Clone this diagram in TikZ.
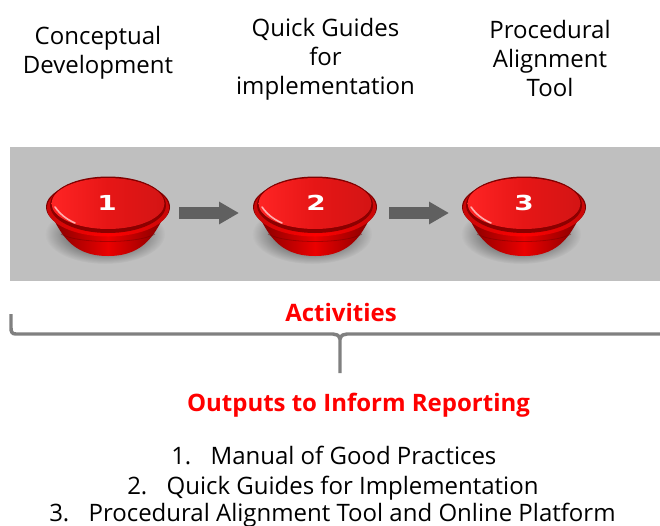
\documentclass[tikz,border=0pt]{standalone}
\usepackage{fontspec}
\setmainfont{Open Sans}
\newfontfamily\numfont{DejaVu Sans}
\usetikzlibrary{shadings,fadings,arrows.meta}
\definecolor{panelgray}{HTML}{BFBFBF}
\definecolor{arrowgray}{HTML}{606060}
\definecolor{bracegray}{HTML}{808080}
\definecolor{btnbright}{HTML}{FF2424}
\definecolor{btnred}{HTML}{E61616}
\definecolor{btndark}{HTML}{7E0000}
\definecolor{btnmid}{HTML}{C80808}
\tikzfading[name=softedge,inner color=transparent!10,middle color=transparent!35,outer color=transparent!100]
\tikzset{
  lbl/.style={font=\fontsize{18pt}{21.8pt}\selectfont,align=center,text=black,inner sep=0pt},
  head/.style={font=\fontsize{18pt}{21.8pt}\selectfont\bfseries,text=red,inner sep=0pt},
  listline/.style={font=\fontsize{18pt}{21.8pt}\selectfont,text=black,inner sep=0pt,anchor=base west},
  numlabel/.style={inner sep=0pt,text=white,xscale=1.35,font=\fontsize{15.5pt}{15.5pt}\selectfont\numfont\bfseries},
  brace/.style={draw=bracegray,line width=2.6pt},
  pics/redbutton/.style={code={
    % soft shadow
    \fill[black,path fading=softedge] (-3,28) ellipse [x radius=60,y radius=30];
    % bowl
    \shade[left color=btndark,right color=btndark,middle color=red!92!black]
      (-60,2) .. controls (-48,26) and (-38,50) .. (0,50) .. controls (38,50) and (48,26) .. (60,2) -- cycle;
    \draw[red!45!black,opacity=.5,line width=.6pt] (-47,28) .. controls (-30,38) and (30,38) .. (47,28);
    % rim
    \fill[btndark] (0,1) ellipse [x radius=62,y radius=28];
    \shade[left color=btnmid,right color=btnmid,middle color=red] (0,2) ellipse [x radius=61,y radius=28.5];
    \fill[red!55!black] (0,-1) ellipse [x radius=58,y radius=28];
    % top cap
    \fill[red!50!black] (0,-3) ellipse [x radius=57,y radius=26.5];
    \shade[left color=btnbright,right color=btnred!92!black,middle color=btnred]
      (0,-2.5) ellipse [x radius=56.5,y radius=25.5];
    % highlight
    \draw[white!75!red,line width=1.2pt,line cap=round,opacity=.9]
      (-53,1) .. controls (-48,8) and (-42,13) .. (-33,17);
  }}
}
\begin{document}
\begin{tikzpicture}[x=0.75pt,y=-0.75pt]
\useasboundingbox (0,0) rectangle (660,525);
\fill[white] (0,0) rectangle (660,525);
\node[lbl] (t1) at (98,53) {Conceptual\\Development};
\node[lbl] (t2) at (325.5,59.5) {Quick Guides\\for\\implementation};
\node[lbl] (t3) at (550,58.5) {Procedural\\Alignment\\Tool};
\fill[panelgray] (10,147) rectangle (660,281);
\pic at (108,206) {redbutton};
\pic at (315,206) {redbutton};
\pic at (524,206) {redbutton};
\node[numlabel] (n1) at (107,203) {1};
\node[numlabel] (n2) at (316,203) {2};
\node[numlabel] (n3) at (524,203) {3};
\coordinate (a1) at (179,213);
\coordinate (b1) at (239,213);
\coordinate (a2) at (389,213);
\coordinate (b2) at (449,213);
\draw[arrowgray,line width=9pt,-{Triangle[length=15pt,width=16pt]}] (a1) -- (b1);
\draw[arrowgray,line width=9pt,-{Triangle[length=15pt,width=16pt]}] (a2) -- (b2);
\node[head] (act) at (341,312) {Activities};
\coordinate (bl) at (11,314);
\coordinate (br) at (660,334);
\coordinate (bt) at (340,373);
\draw[brace] (bl) -- (11,328) .. controls (11,332) and (12,334) .. (16,334) -- (333,334) .. controls (336,334) and (339,335) .. (340,339) -- (bt);
\draw[brace] (340,339) .. controls (341,335) and (344,334) .. (347,334) -- (br);
\node[head] (out) at (358.5,405.5) {Outputs to Inform Reporting};
\node[listline] (l1) at (171,464) {1.\hspace{0.8em}Manual of Good Practices};
\node[listline] (l2) at (127,494) {2.\hspace{0.8em}Quick Guides for Implementation};
\node[listline] (l3) at (49,521) {3.\hspace{0.8em}Procedural Alignment Tool and Online Platform};
\end{tikzpicture}
\end{document}
